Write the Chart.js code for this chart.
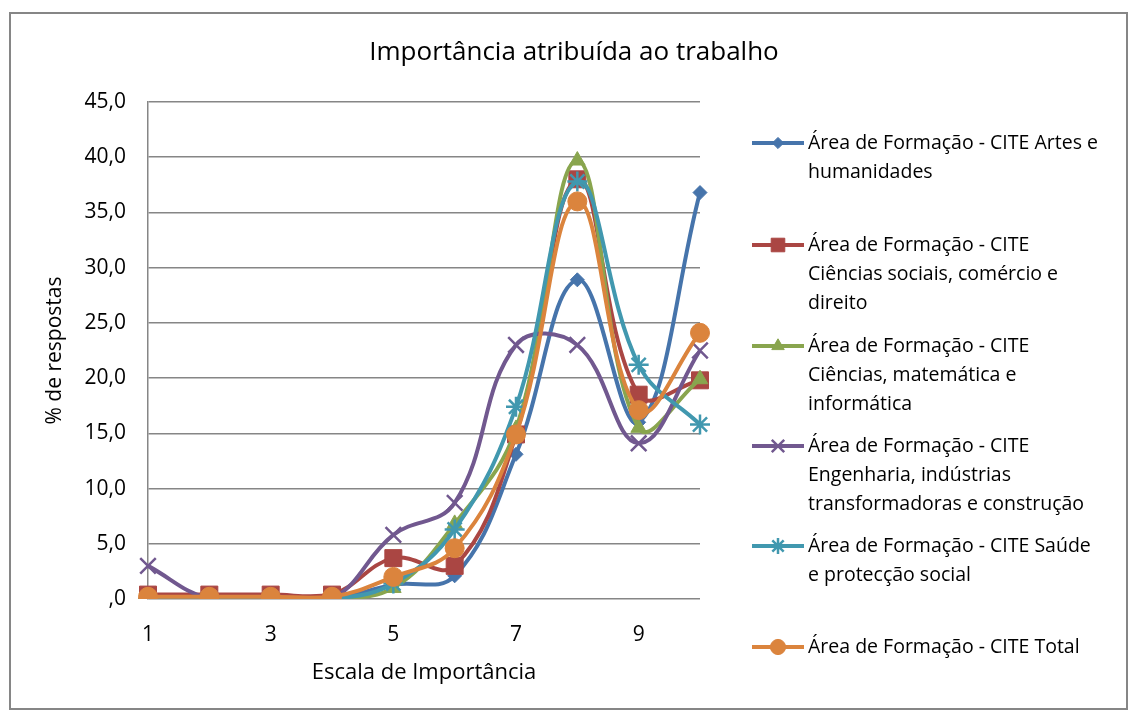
<!DOCTYPE html>
<html>
<head>
<meta charset="utf-8">
<script src="https://cdn.jsdelivr.net/npm/chart.js@4/dist/chart.umd.min.js"></script>
<style>
  html, body { margin: 0; padding: 0; background: #fff; }
  #wrap { position: relative; width: 1130px; height: 711px; }
</style>
</head>
<body>
<div id="wrap"><canvas id="chart" width="1130" height="711"></canvas></div>
<script>
  // ===== DATA =====
  const CATEGORIES = ['1', '2', '3', '4', '5', '6', '7', '8', '9', '10'];

  const ARTES = [0, 0, 0, 0, 1.3, 2.1, 13.1, 28.9, 16.0, 36.8];
  const SOCIAIS = [0.4, 0.4, 0.4, 0.4, 3.7, 3.0, 14.9, 38.0, 18.5, 19.8];
  const CIENCIAS = [0, 0, 0, 0, 1.0, 6.8, 15.4, 39.7, 15.5, 19.9];
  const ENGENHARIA = [3.0, 0, 0, 0, 5.8, 8.7, 23.0, 23.0, 14.1, 22.5];
  const SAUDE = [0, 0, 0, 0, 1.4, 6.3, 17.4, 37.8, 21.2, 15.8];
  const TOTAL = [0.2, 0.2, 0.2, 0.2, 2.0, 4.6, 14.9, 36.0, 17.1, 24.1];

  const SERIES_NAMES = [
    'Área de Formação - CITE Artes e humanidades',
    'Área de Formação - CITE Ciências sociais, comércio e direito',
    'Área de Formação - CITE Ciências, matemática e informática',
    'Área de Formação - CITE Engenharia, indústrias transformadoras e construção',
    'Área de Formação - CITE Saúde e protecção social',
    'Área de Formação - CITE Total',
  ];
  // legend text as wrapped in the original
  const LEGEND_LINES = [
    ['Área de Formação - CITE Artes e', 'humanidades'],
    ['Área de Formação - CITE', 'Ciências sociais, comércio e', 'direito'],
    ['Área de Formação - CITE', 'Ciências, matemática e', 'informática'],
    ['Área de Formação - CITE', 'Engenharia, indústrias', 'transformadoras e construção'],
    ['Área de Formação - CITE Saúde', 'e protecção social'],
    ['Área de Formação - CITE Total'],
  ];

  const Y_TICKS = [0, 5, 10, 15, 20, 25, 30, 35, 40, 45];

  const FONT = '"Open Sans", Lato, sans-serif';
  const GRID = '#868686';

  const STYLES = [
    { color: '#4674AB', point: 'rectRot', radius: 7 },
    { color: '#AA4643', point: 'rect', radius: 12 },
    { color: '#89A54E', point: 'triangle', radius: 9 },
    { color: '#71588F', point: 'crossRot', radius: 11 },
    { color: '#4198AF', point: 'star', radius: 10 },
    { color: '#DB843D', point: 'circle', radius: 9.5 },
  ];
  const SERIES = [ARTES, SOCIAIS, CIENCIAS, ENGENHARIA, SAUDE, TOTAL];

  const datasets = SERIES.map((values, i) => ({
    label: SERIES_NAMES[i],
    data: values,
    borderColor: STYLES[i].color,
    backgroundColor: STYLES[i].color,
    borderWidth: 4,
    pointStyle: STYLES[i].point,
    pointRadius: STYLES[i].radius,
    pointBorderWidth: STYLES[i].point === 'crossRot' || STYLES[i].point === 'star' ? 2.5 : 1,
    pointBorderColor: STYLES[i].color,
    pointBackgroundColor: STYLES[i].color,
    tension: 0.4,
    cubicInterpolationMode: 'default',
    fill: false,
    order: SERIES.length - i,
  }));

  // ===== FRAME, TITLE, LEGEND =====
  const decor = {
    id: 'decor',
    beforeDraw(chart) {
      const ctx = chart.ctx;
      ctx.save();
      ctx.fillStyle = '#fff';
      ctx.fillRect(0, 0, chart.width, chart.height);
      ctx.restore();
    },
    afterDraw(chart) {
      const ctx = chart.ctx;
      ctx.save();
      ctx.strokeStyle = GRID;
      ctx.lineWidth = 2;
      ctx.strokeRect(10, 13, 1117, 696);

      ctx.fillStyle = '#000';
      ctx.font = '26px ' + FONT;
      ctx.textAlign = 'center';
      ctx.textBaseline = 'middle';
      ctx.fillText('Importância atribuída ao trabalho', 574, 53);

      const slots = [143, 245, 346, 446, 546, 647];
      ctx.font = '19.5px ' + FONT;
      ctx.textAlign = 'left';
      chart.data.datasets.forEach((ds, i) => {
        const y = slots[i];
        ctx.strokeStyle = ds.borderColor;
        ctx.lineWidth = 4;
        ctx.beginPath();
        ctx.moveTo(752, y);
        ctx.lineTo(804, y);
        ctx.stroke();
        ctx.fillStyle = ds.borderColor;
        ctx.lineWidth = ds.pointBorderWidth;
        Chart.helpers.drawPoint(ctx, {
          pointStyle: ds.pointStyle,
          radius: ds.pointRadius * 0.8,
          borderWidth: ds.pointBorderWidth,
          rotation: 0,
        }, 778, y);
        ctx.fillStyle = '#000';
        LEGEND_LINES[i].forEach((line, j) => {
          ctx.fillText(line, 808, y + j * 29);
        });
      });
      ctx.restore();
    },
  };

  new Chart(document.getElementById('chart'), {
    type: 'line',
    data: { labels: CATEGORIES, datasets },
    options: {
      responsive: false,
      animation: false,
      layout: { padding: { top: 102, left: 40, right: 430, bottom: 22 } },
      plugins: {
        legend: { display: false },
        title: { display: false },
        tooltip: { enabled: false },
      },
      scales: {
        x: {
          offset: false,
          grid: { display: false, drawTicks: false },
          border: { display: false },
          ticks: {
            color: '#000',
            font: { family: FONT, size: 21 },
            padding: 23,
            autoSkip: false,
            maxRotation: 0,
            callback: (v, i) => (i % 2 === 0 ? CATEGORIES[i] : ''),
          },
          title: {
            display: true,
            text: 'Escala de Importância',
            color: '#000',
            font: { family: FONT, size: 22 },
            padding: { top: 4, bottom: 3 },
          },
          afterFit: s => { s.height = 90; },
        },
        y: {
          min: Y_TICKS[0],
          max: Y_TICKS[Y_TICKS.length - 1],
          afterBuildTicks: s => { s.ticks = Y_TICKS.map(v => ({ value: v })); },
          grid: { color: GRID, lineWidth: 1.5, drawTicks: false },
          border: { color: GRID, width: 1.5 },
          ticks: {
            color: '#000',
            font: { family: FONT, size: 21 },
            padding: 22,
            callback: v => (v === 0 ? ',0' : v.toFixed(1).replace('.', ',')),
          },
          title: {
            display: true,
            text: '% de respostas',
            color: '#000',
            font: { family: FONT, size: 21 },
            padding: { top: 2, bottom: 4 },
          },
          afterFit: s => { s.width = 108; },
        },
      },
    },
    plugins: [decor],
  });
</script>
</body>
</html>
